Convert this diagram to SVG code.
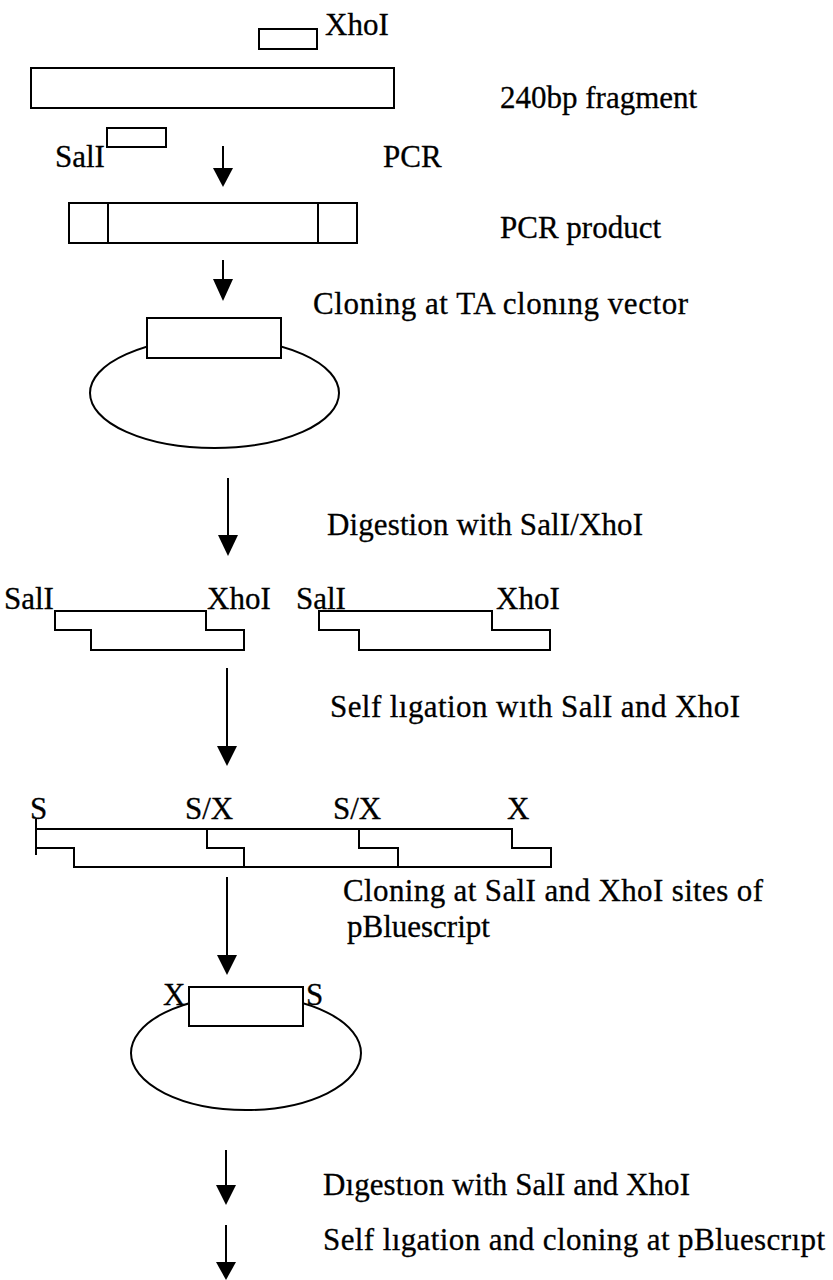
<svg xmlns="http://www.w3.org/2000/svg" width="833" height="1280" viewBox="0 0 833 1280">
<style>
.t{font-family:"Liberation Serif","Times New Roman",serif;font-size:31px;fill:#000;stroke:#000;stroke-width:0.3}
.s{fill:#fff;stroke:#000;stroke-width:2}
.l{fill:none;stroke:#000;stroke-width:2}
.a{stroke:#000;stroke-width:2}
.h{fill:#000}
</style>
<rect width="833" height="1280" fill="#fff"/>
<g id="primers">
<rect class="s" x="259" y="29" width="58" height="20"/>
<text class="t" x="325" y="35">XhoI</text>
<rect class="s" x="107" y="128" width="59" height="19"/>
<text class="t" x="55" y="167">SalI</text>
</g>
<g id="fragment240">
<rect class="s" x="31" y="68" width="363" height="40"/>
<text class="t" x="500" y="108">240bp fragment</text>
</g>
<text class="t" x="383" y="167">PCR</text>
<g id="pcrproduct">
<rect class="s" x="69" y="203" width="288" height="40"/>
<line class="l" x1="108" y1="203" x2="108" y2="243"/>
<line class="l" x1="318" y1="203" x2="318" y2="243"/>
<text class="t" x="500" y="238">PCR product</text>
</g>
<g id="tavector">
<ellipse class="l" cx="214.5" cy="393" rx="124.5" ry="55"/>
<rect class="s" x="147" y="318" width="134" height="40"/>
<text class="t" x="313" y="314" textLength="375">Cloning at TA clonıng vector</text>
</g>
<text class="t" x="327" y="535" textLength="316">Digestion with SalI/XhoI</text>
<g id="digest1">
<polygon class="l" points="55,611 206,611 206,630 244,630 244,650 91,650 91,630 55,630"/>
<text class="t" x="4" y="609">SalI</text>
<text class="t" x="207" y="609">XhoI</text>
</g>
<g id="digest2">
<polygon class="l" points="319,611 492,611 492,630 550,630 550,650 359,650 359,630 319,630"/>
<text class="t" x="296" y="609">SalI</text>
<text class="t" x="496" y="609">XhoI</text>
</g>
<text class="t" x="330" y="717" textLength="410">Self lıgation wıth SalI and XhoI</text>
<g id="ligation">
<text class="t" x="30" y="819">S</text>
<text class="t" x="185" y="819">S/X</text>
<text class="t" x="333" y="819">S/X</text>
<text class="t" x="507" y="819">X</text>
<path class="l" d="M36,819 V855 M36,829 H512 V848 H551 V867 H74 V848 H36 M207,829 V848 H244 V867 M359,829 V848 H398 V867"/>
</g>
<text class="t" x="343" y="901" textLength="420">Cloning at SalI and XhoI sites of</text>
<text class="t" x="347" y="937">pBluescript</text>
<g id="pbluescript">
<ellipse class="l" cx="246" cy="1053" rx="115" ry="57"/>
<rect class="s" x="189" y="987" width="114" height="39"/>
<text class="t" x="163" y="1005">X</text>
<text class="t" x="306" y="1005">S</text>
</g>
<text class="t" x="323" y="1195" textLength="367">Dıgestıon with SalI and XhoI</text>
<text class="t" x="323" y="1250" textLength="502">Self lıgation and cloning at pBluescrıpt</text>
<g id="connectors">
<line class="a" x1="223" y1="146" x2="223" y2="170"/><polygon class="h" points="213,168 233,168 223,187"/>
<line class="a" x1="223" y1="260" x2="223" y2="281"/><polygon class="h" points="213,279 233,279 223,301"/>
<line class="a" x1="228" y1="478" x2="228" y2="537"/><polygon class="h" points="218,535 238,535 228,556"/>
<line class="a" x1="227" y1="668" x2="227" y2="748"/><polygon class="h" points="217,746 237,746 227,766"/>
<line class="a" x1="227" y1="877" x2="227" y2="957"/><polygon class="h" points="217,955 237,955 227,975"/>
<line class="a" x1="226" y1="1150" x2="226" y2="1187"/><polygon class="h" points="216,1185 236,1185 226,1205"/>
<line class="a" x1="226" y1="1225" x2="226" y2="1264"/><polygon class="h" points="216,1262 236,1262 226,1280"/>
</g>
</svg>
